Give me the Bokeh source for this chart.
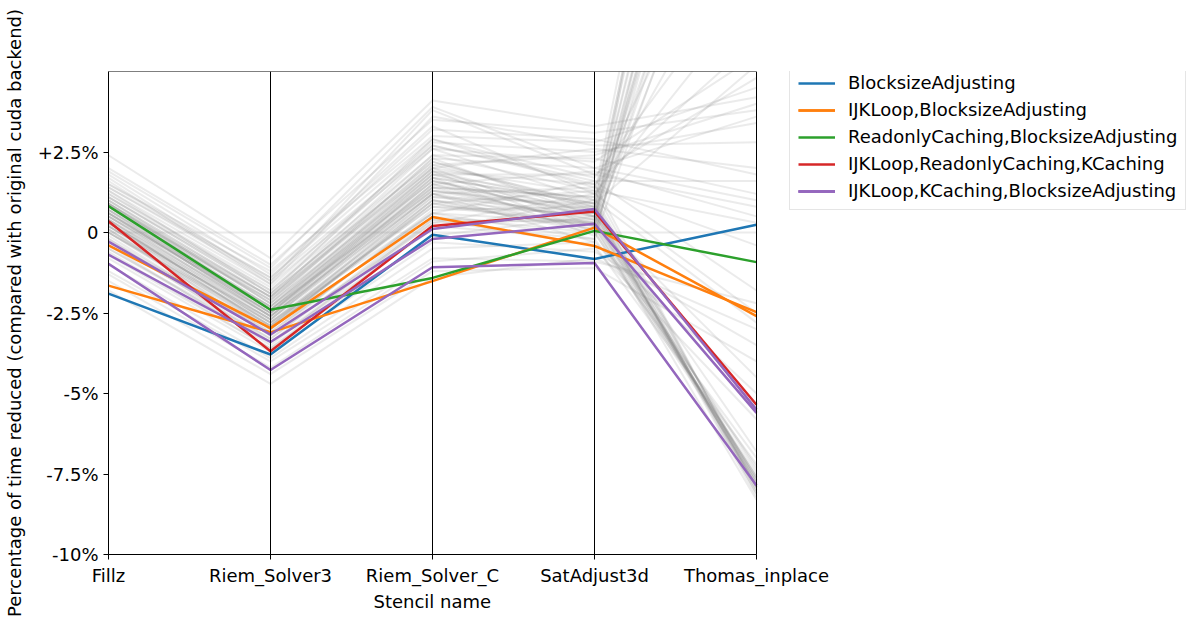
from bokeh.plotting import figure
from bokeh.models import Range1d, FixedTicker, Span, Legend, LegendItem, BoxAnnotation, Title
from bokeh.embed import file_html
from bokeh.resources import INLINE

# ---------------- data ----------------
stencils = ["Fillz", "Riem_Solver3", "Riem_Solver_C", "SatAdjust3d", "Thomas_inplace"]
y_ticks = [-10, -7.5, -5, -2.5, 0, 2.5]
y_tick_labels = ["-10%", "-7.5%", "-5%", "-2.5%", "0", "+2.5%"]

# highlighted configurations (percent), one value per stencil
blocksize = [-1.9, -3.79, -0.07, -0.82, 0.24]
ijk_blocksize_a = [-0.4, -2.97, 0.48, -0.42, -2.47]
ijk_blocksize_b = [-1.65, -3.1, -1.51, 0.15, -2.6]
readonly_blocksize = [0.82, -2.4, -1.41, 0.05, -0.92]
ijk_readonly_kcaching = [0.35, -3.69, 0.2, 0.65, -5.35]
ijk_kcaching_blocksize_a = [-0.28, -3.17, 0.11, 0.73, -5.5]
ijk_kcaching_blocksize_b = [-0.69, -3.4, -0.2, 0.27, -5.6]
ijk_kcaching_blocksize_c = [-0.97, -4.27, -1.08, -0.95, -7.86]

# all other configurations (grey background), one array per stencil
gray_fillz = [0.6, 0.9, 0.2, 1.1, 0.4, -0.2, 0.7, 1.3, 0.0, 0.5, 0.8, 0.3, -0.5, 1.0, 0.6, 0.1, 1.5, 0.4, 0.9, -0.1, 0.7, 0.2,
              0.5, 0.8, 0.1, 1.0, 0.3, -0.3, 0.6, 1.2, 0.0, 0.4, 0.9, -0.6, 0.7, 0.2, 1.4, 0.5, -0.2, 0.8, 0.3, 0.6, 1.1, -0.4, 0.0, 0.9, 0.4,
              1.5, 2.0, 0.8, 1.7, 1.2, 2.4, 0.5, 1.0, 1.8, 0.3, 1.3, 0.7, 1.6,
              1.4, 0.9, 0.2, 1.1, -0.3, 0.6, 1.9, 0.0, 0.8,
              -0.8, -1.2, -0.5, -1.5, 0.3, -1.0, -1.8, -0.7, 0.1, -1.3,
              0.0]
gray_riem3 = [-2.5, -2.2, -2.9, -1.9, -2.7, -3.1, -2.4, -1.6, -3.0, -2.6, -2.3, -2.8, -3.3, -2.0, -2.5, -2.9, -1.4, -2.6, -2.1, -3.2, -2.4, -2.7,
              -2.6, -2.3, -3.0, -2.0, -2.8, -3.3, -2.4, -1.8, -3.1, -2.5, -2.2, -3.6, -2.6, -2.9, -1.5, -2.3, -3.4, -2.1, -2.7, -2.5, -1.9, -3.5, -2.8, -2.4, -3.0,
              -1.2, -1.0, -2.0, -1.5, -1.7, -0.8, -2.4, -2.2, -1.3, -2.6, -1.9, -2.1, -1.6,
              -1.4, -2.0, -2.7, -1.8, -3.0, -2.3, -1.1, -2.9, -2.5,
              -3.7, -4.0, -3.4, -4.4, -2.8, -3.9, -4.7, -3.6, -3.2, -4.2,
              0.0]
gray_riemc = [1.4, 1.8, 0.9, 2.2, 1.2, 0.6, 1.6, 2.6, 1.0, 1.3, 1.9, 1.1, 0.4, 2.0, 1.7, 0.8, 2.9, 1.5, 2.3, 0.7, 1.4, 1.2,
              1.3, 1.6, 0.9, 2.1, 1.0, 0.5, 1.8, 2.4, 0.6, 1.5, 1.9, 0.2, 1.2, 1.1, 2.7, 1.7, 0.3, 2.0, 1.4, 1.6, 2.2, 0.4, 0.8, 1.3, 1.0,
              3.0, 3.5, 2.6, 3.8, 2.8, 4.1, 1.9, 2.3, 3.3, 1.7, 2.9, 2.1, 3.6,
              3.2, 2.4, 1.5, 2.7, 0.9, 2.0, 3.9, 1.2, 1.8,
              -0.3, -0.8, 0.1, -1.2, 0.6, -0.5, -1.4, -0.1, 0.3, -0.9,
              0.0]
gray_sat = [0.3, 0.6, 0.1, 0.8, 0.4, -0.2, 0.5, 1.0, 0.2, 0.7, 0.0, 0.9, 0.3, 1.2, -0.1, 0.6, 1.4, 0.2, 0.5, 0.8, 1.1, -0.3,
            0.4, 0.7, 0.2, 0.9, 0.5, 0.0, 1.0, 1.3, 0.3, 0.6, 0.8, -0.2, 0.1, 0.6, 1.5, 0.9, 0.4, 0.2, 1.1, 0.5, 0.7, -0.4, 0.3, 0.8, 0.0,
            2.8, 3.1, 2.2, 1.8, 2.5, 3.3, 1.5, 2.0, 1.2, 0.9, 1.7, 2.4, 2.7,
            2.9, 2.3, 1.9, 1.6, 1.3, 2.6, 2.0, 1.4, 1.8,
            -0.6, -0.9, 1.0, -1.1, 1.6, -0.3, -0.8, 0.5, 1.2, -0.5,
            0.0]
gray_thomas = [18, 22, 15, 25, 20, 14, 17, 24, 19, 21, 16, 23, 13, 26, 18, 15, 12, 27, 20, 17, 10, 22,
               -7.8, -7.9, -7.6, -8.0, -7.7, -7.5, -8.1, -7.9, -7.3, -7.8, -8.2, -7.0, -7.6, -7.9, -8.0, -7.7, -7.4, -8.3, -7.8, -6.8, -7.9, -7.2, -7.6, -8.1, -7.7,
               4.5, 3.8, 5.5, 4.8, 3.4, 4.2, 6.0, 3.6, 7.5, 5.2, 8.5, 4.0, 2.8,
               1.8, 1.2, 0.5, 1.6, 0.3, 2.0, 1.0, -0.4, 0.8,
               -3.5, -2.2, -2.8, -4.0, -1.8, -5.0, -3.0, -4.5, -2.5, -5.8,
               0.0]

# ---------------- figure ----------------
FONT = "DejaVu Sans"
xs_axis = list(range(len(stencils)))
W, H = 1189, 621
LEFT, TOP, BOTTOM = 108, 71, 67
AXIS_SPACING = 162            # pixels between neighbouring stencil axes
frame_w = W - LEFT
x_end = frame_w / AXIS_SPACING

p = figure(width=W, height=H, output_backend="svg", toolbar_location=None,
           x_range=Range1d(0, x_end), y_range=Range1d(-10, 5),
           min_border_left=LEFT, min_border_right=0, min_border_top=TOP, min_border_bottom=BOTTOM)
p.background_fill_color = "white"
p.border_fill_color = "white"
p.outline_line_color = None
p.xgrid.visible = False
p.ygrid.visible = False

# grey background lines
gray_rows = list(zip(gray_fillz, gray_riem3, gray_riemc, gray_sat, gray_thomas))
p.multi_line(xs=[xs_axis] * len(gray_rows), ys=[list(r) for r in gray_rows],
             line_color="gray", line_alpha=0.16, line_width=2)

# vertical axis lines for each stencil and the plot box
for i in xs_axis[1:-1]:
    p.add_layout(Span(location=i, dimension="height", line_color="black", line_width=1))
p.add_layout(BoxAnnotation(left=xs_axis[0], right=xs_axis[-1], bottom=-10, top=5,
                           fill_alpha=0, line_color="black", line_width=1, line_alpha=1))

series = [
    ("BlocksizeAdjusting", "#1f77b4", [blocksize]),
    ("IJKLoop,BlocksizeAdjusting", "#ff7f0e", [ijk_blocksize_a, ijk_blocksize_b]),
    ("ReadonlyCaching,BlocksizeAdjusting", "#2ca02c", [readonly_blocksize]),
    ("IJKLoop,ReadonlyCaching,KCaching", "#d62728", [ijk_readonly_kcaching]),
    ("IJKLoop,KCaching,BlocksizeAdjusting", "#9467bd",
     [ijk_kcaching_blocksize_a, ijk_kcaching_blocksize_b, ijk_kcaching_blocksize_c]),
]
items = []
for label, color, lines in series:
    rs = [p.line(xs_axis, vals, line_color=color, line_width=2.5) for vals in lines]
    items.append(LegendItem(label=label, renderers=rs))

frame_h = H - TOP - BOTTOM
legend_h = 139
legend = Legend(items=items, location=(681, frame_h - legend_h),
                label_text_font=FONT, label_text_font_size="18px", label_text_color="black",
                glyph_width=37, glyph_height=20, label_height=20, spacing=6,
                label_standoff=13, padding=8, margin=0,
                border_line_color="#cccccc", border_line_width=1,
                background_fill_color="white", background_fill_alpha=1.0)
p.add_layout(legend, "center")

# axes
p.xaxis.ticker = FixedTicker(ticks=xs_axis)
p.xaxis.bounds = (xs_axis[0], xs_axis[-1])
p.xaxis.major_label_overrides = {i: s for i, s in enumerate(stencils)}
p.yaxis.ticker = FixedTicker(ticks=y_ticks)
p.yaxis.major_label_overrides = {t: l for t, l in zip(y_ticks, y_tick_labels)}
for ax in (p.xaxis[0], p.yaxis[0]):
    ax.axis_line_color = "black"
    ax.major_tick_line_color = "black"
    ax.major_tick_out = 5
    ax.major_tick_in = 0
    ax.minor_tick_line_color = None
    ax.major_label_text_font = FONT
    ax.major_label_text_font_size = "18px"
    ax.major_label_text_color = "black"
    ax.axis_label_text_font = FONT
    ax.axis_label_text_font_size = "18px"
    ax.axis_label_text_font_style = "normal"
    ax.axis_label_text_color = "black"
p.yaxis.axis_label = "Percentage of time reduced (compared with original cuda backend)"
p.yaxis.axis_label_standoff = 10

# x axis title centred under the stencil axes
p.add_layout(Title(text="Stencil name", align="left", offset=265,
                   text_font=FONT, text_font_size="18px", text_font_style="normal",
                   text_color="black", standoff=0), "below")

open("out.html", "w").write(file_html(p, INLINE))
